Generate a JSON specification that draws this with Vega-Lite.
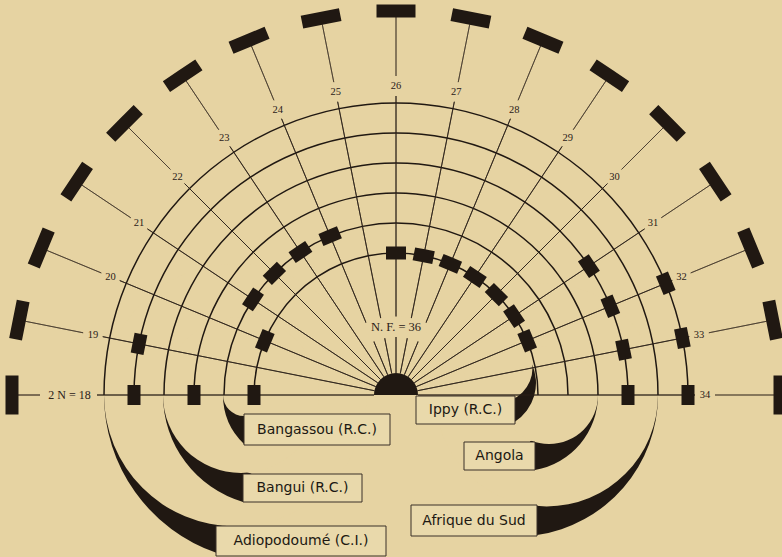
{
  "$schema": "https://vega.github.io/schema/vega-lite/v6.json",
  "width": 782,
  "height": 557,
  "padding": 0,
  "autosize": {"type": "none"},
  "background": "#e6d3a2",
  "config": {"view": {"stroke": null}},
  "datasets": {
    "rays": [{"n": 18}, {"n": 19}, {"n": 20}, {"n": 21}, {"n": 22}, {"n": 23}, {"n": 24}, {"n": 25}, {"n": 26}, {"n": 27}, {"n": 28}, {"n": 29}, {"n": 30}, {"n": 31}, {"n": 32}, {"n": 33}, {"n": 34}],
    "rings": [
      {"population": "Ippy  (R.C.)", "ring": 1},
      {"population": "Bangassou (R.C.)", "ring": 2},
      {"population": "Angola", "ring": 3},
      {"population": "Bangui  (R.C.)", "ring": 4},
      {"population": "Afrique du Sud", "ring": 5},
      {"population": "Adiopodoumé (C.I.)", "ring": 6}
    ],
    "karyotypes": [
      {"population": "Ippy  (R.C.)", "n": 18}, {"population": "Ippy  (R.C.)", "n": 20}, {"population": "Ippy  (R.C.)", "n": 26}, {"population": "Ippy  (R.C.)", "n": 27}, {"population": "Ippy  (R.C.)", "n": 28}, {"population": "Ippy  (R.C.)", "n": 29}, {"population": "Ippy  (R.C.)", "n": 30}, {"population": "Ippy  (R.C.)", "n": 31}, {"population": "Ippy  (R.C.)", "n": 32},
      {"population": "Bangassou (R.C.)", "n": 21}, {"population": "Bangassou (R.C.)", "n": 22}, {"population": "Bangassou (R.C.)", "n": 23}, {"population": "Bangassou (R.C.)", "n": 24},
      {"population": "Angola", "n": 18},
      {"population": "Bangui  (R.C.)", "n": 31}, {"population": "Bangui  (R.C.)", "n": 32}, {"population": "Bangui  (R.C.)", "n": 33}, {"population": "Bangui  (R.C.)", "n": 34},
      {"population": "Afrique du Sud", "n": 18}, {"population": "Afrique du Sud", "n": 19},
      {"population": "Adiopodoumé (C.I.)", "n": 32}, {"population": "Adiopodoumé (C.I.)", "n": 33}, {"population": "Adiopodoumé (C.I.)", "n": 34}
    ]
  },
  "encoding": {
    "x": {"datum": 0, "type": "quantitative", "scale": {"domain": [-396, 386], "nice": false, "zero": false}, "axis": null},
    "y": {"datum": 0, "type": "quantitative", "scale": {"domain": [-162, 395], "nice": false, "zero": false}, "axis": null}
  },
  "layer": [
    {"data": {"name": "rings"}, "transform": [{"filter": "datum.ring == 6"}],
     "mark": {"type": "arc", "fill": "#201812"},
     "encoding": {
       "x": {"datum": -125, "type": "quantitative", "scale": {"domain": [-396, 386], "nice": false, "zero": false}, "axis": null},
       "theta": {"datum": 11.68, "type": "quantitative", "stack": null, "scale": {"type": "linear", "domain": [18, 34], "range": [-1.5707963, 1.5707963], "zero": false, "nice": false}},
       "theta2": {"datum": 18},
       "radius": {"datum": 1.8333, "type": "quantitative", "scale": {"type": "linear", "domain": [0, 10], "range": [112, 412], "zero": false, "nice": false}},
       "radius2": {"datum": 0.8667}
     }},
    {"data": {"name": "rings"}, "transform": [{"filter": "datum.ring == 6"}],
     "mark": {"type": "arc", "fill": "#e6d3a2"},
     "encoding": {
       "x": {"datum": -160.7, "type": "quantitative", "scale": {"domain": [-396, 386], "nice": false, "zero": false}, "axis": null},
       "theta": {"datum": 10, "type": "quantitative", "stack": null, "scale": {"type": "linear", "domain": [18, 34], "range": [-1.5707963, 1.5707963], "zero": false, "nice": false}},
       "theta2": {"datum": 42},
       "radius": {"datum": 0.6433, "type": "quantitative", "scale": {"type": "linear", "domain": [0, 10], "range": [112, 412], "zero": false, "nice": false}},
       "radius2": {"datum": -3.7333}
     }},
    {"data": {"name": "rings"}, "transform": [{"filter": "datum.ring == 4"}],
     "mark": {"type": "arc", "fill": "#201812"},
     "encoding": {
       "x": {"datum": -121.4, "type": "quantitative", "scale": {"domain": [-396, 386], "nice": false, "zero": false}, "axis": null},
       "theta": {"datum": 11.46, "type": "quantitative", "stack": null, "scale": {"type": "linear", "domain": [18, 34], "range": [-1.5707963, 1.5707963], "zero": false, "nice": false}},
       "theta2": {"datum": 18},
       "radius": {"datum": -0.0133, "type": "quantitative", "scale": {"type": "linear", "domain": [0, 10], "range": [112, 412], "zero": false, "nice": false}},
       "radius2": {"datum": -1.0}
     }},
    {"data": {"name": "rings"}, "transform": [{"filter": "datum.ring == 4"}],
     "mark": {"type": "arc", "fill": "#e6d3a2"},
     "encoding": {
       "x": {"datum": -155, "type": "quantitative", "scale": {"domain": [-396, 386], "nice": false, "zero": false}, "axis": null},
       "theta": {"datum": 10, "type": "quantitative", "stack": null, "scale": {"type": "linear", "domain": [18, 34], "range": [-1.5707963, 1.5707963], "zero": false, "nice": false}},
       "theta2": {"datum": 42},
       "radius": {"datum": -1.1333, "type": "quantitative", "scale": {"type": "linear", "domain": [0, 10], "range": [112, 412], "zero": false, "nice": false}},
       "radius2": {"datum": -3.7333}
     }},
    {"data": {"name": "rings"}, "transform": [{"filter": "datum.ring == 2"}],
     "mark": {"type": "arc", "fill": "#201812"},
     "encoding": {
       "x": {"datum": -105.3, "type": "quantitative", "scale": {"domain": [-396, 386], "nice": false, "zero": false}, "axis": null},
       "theta": {"datum": 13.88, "type": "quantitative", "stack": null, "scale": {"type": "linear", "domain": [18, 34], "range": [-1.5707963, 1.5707963], "zero": false, "nice": false}},
       "theta2": {"datum": 18},
       "radius": {"datum": -1.4767, "type": "quantitative", "scale": {"type": "linear", "domain": [0, 10], "range": [112, 412], "zero": false, "nice": false}},
       "radius2": {"datum": -2.0667}
     }},
    {"data": {"name": "rings"}, "transform": [{"filter": "datum.ring == 2"}],
     "mark": {"type": "arc", "fill": "#e6d3a2"},
     "encoding": {
       "x": {"datum": -152, "type": "quantitative", "scale": {"domain": [-396, 386], "nice": false, "zero": false}, "axis": null},
       "theta": {"datum": 10, "type": "quantitative", "stack": null, "scale": {"type": "linear", "domain": [18, 34], "range": [-1.5707963, 1.5707963], "zero": false, "nice": false}},
       "theta2": {"datum": 42},
       "radius": {"datum": -3.0333, "type": "quantitative", "scale": {"type": "linear", "domain": [0, 10], "range": [112, 412], "zero": false, "nice": false}},
       "radius2": {"datum": -3.7333}
     }},
    {"data": {"name": "rings"}, "transform": [{"filter": "datum.ring == 5"}],
     "mark": {"type": "arc", "fill": "#201812"},
     "encoding": {
       "x": {"datum": 120.5, "type": "quantitative", "scale": {"domain": [-396, 386], "nice": false, "zero": false}, "axis": null},
       "theta": {"datum": 34, "type": "quantitative", "stack": null, "scale": {"type": "linear", "domain": [18, 34], "range": [-1.5707963, 1.5707963], "zero": false, "nice": false}},
       "theta2": {"datum": 41.26},
       "radius": {"datum": 0.9833, "type": "quantitative", "scale": {"type": "linear", "domain": [0, 10], "range": [112, 412], "zero": false, "nice": false}},
       "radius2": {"datum": -0.0667}
     }},
    {"data": {"name": "rings"}, "transform": [{"filter": "datum.ring == 5"}],
     "mark": {"type": "arc", "fill": "#e6d3a2"},
     "encoding": {
       "x": {"datum": 150.6, "type": "quantitative", "scale": {"domain": [-396, 386], "nice": false, "zero": false}, "axis": null},
       "theta": {"datum": 10, "type": "quantitative", "stack": null, "scale": {"type": "linear", "domain": [18, 34], "range": [-1.5707963, 1.5707963], "zero": false, "nice": false}},
       "theta2": {"datum": 42},
       "radius": {"datum": -0.02, "type": "quantitative", "scale": {"type": "linear", "domain": [0, 10], "range": [112, 412], "zero": false, "nice": false}},
       "radius2": {"datum": -3.7333}
     }},
    {"data": {"name": "rings"}, "transform": [{"filter": "datum.ring == 3"}],
     "mark": {"type": "arc", "fill": "#201812"},
     "encoding": {
       "x": {"datum": 125.9, "type": "quantitative", "scale": {"domain": [-396, 386], "nice": false, "zero": false}, "axis": null},
       "theta": {"datum": 34, "type": "quantitative", "stack": null, "scale": {"type": "linear", "domain": [18, 34], "range": [-1.5707963, 1.5707963], "zero": false, "nice": false}},
       "theta2": {"datum": 41.12},
       "radius": {"datum": -1.1967, "type": "quantitative", "scale": {"type": "linear", "domain": [0, 10], "range": [112, 412], "zero": false, "nice": false}},
       "radius2": {"datum": -2.1667}
     }},
    {"data": {"name": "rings"}, "transform": [{"filter": "datum.ring == 3"}],
     "mark": {"type": "arc", "fill": "#e6d3a2"},
     "encoding": {
       "x": {"datum": 153, "type": "quantitative", "scale": {"domain": [-396, 386], "nice": false, "zero": false}, "axis": null},
       "theta": {"datum": 10, "type": "quantitative", "stack": null, "scale": {"type": "linear", "domain": [18, 34], "range": [-1.5707963, 1.5707963], "zero": false, "nice": false}},
       "theta2": {"datum": 42},
       "radius": {"datum": -2.1, "type": "quantitative", "scale": {"type": "linear", "domain": [0, 10], "range": [112, 412], "zero": false, "nice": false}},
       "radius2": {"datum": -3.7333}
     }},
    {"data": {"name": "rings"}, "transform": [{"filter": "datum.ring == 1"}],
     "mark": {"type": "arc", "fill": "#201812"},
     "encoding": {
       "x": {"datum": 94, "type": "quantitative", "scale": {"domain": [-396, 386], "nice": false, "zero": false}, "axis": null},
       "y": {"datum": 12, "type": "quantitative", "scale": {"domain": [-162, 395], "nice": false, "zero": false}, "axis": null},
       "theta": {"datum": 31.78, "type": "quantitative", "stack": null, "scale": {"type": "linear", "domain": [18, 34], "range": [-1.5707963, 1.5707963], "zero": false, "nice": false}},
       "theta2": {"datum": 39.09},
       "radius": {"datum": -2.2, "type": "quantitative", "scale": {"type": "linear", "domain": [0, 10], "range": [112, 412], "zero": false, "nice": false}},
       "radius2": {"datum": -2.8333}
     }},
    {"data": {"name": "rings"}, "transform": [{"filter": "datum.ring == 1"}],
     "mark": {"type": "arc", "fill": "#e6d3a2"},
     "encoding": {
       "x": {"datum": 102, "type": "quantitative", "scale": {"domain": [-396, 386], "nice": false, "zero": false}, "axis": null},
       "y": {"datum": 27, "type": "quantitative", "scale": {"domain": [-162, 395], "nice": false, "zero": false}, "axis": null},
       "theta": {"datum": 10, "type": "quantitative", "stack": null, "scale": {"type": "linear", "domain": [18, 34], "range": [-1.5707963, 1.5707963], "zero": false, "nice": false}},
       "theta2": {"datum": 42},
       "radius": {"datum": -2.5833, "type": "quantitative", "scale": {"type": "linear", "domain": [0, 10], "range": [112, 412], "zero": false, "nice": false}},
       "radius2": {"datum": -3.7333}
     }},
    {"data": {"name": "rings"},
     "mark": {"type": "arc", "fill": "#201812", "radiusOffset": 0.75, "radius2Offset": -0.75},
     "encoding": {
       "theta": {"datum": 18, "type": "quantitative", "stack": null, "scale": {"type": "linear", "domain": [18, 34], "range": [-1.5707963, 1.5707963], "zero": false, "nice": false}},
       "theta2": {"datum": 34},
       "radius": {"field": "ring", "type": "quantitative", "scale": {"type": "linear", "domain": [0, 10], "range": [112, 412], "zero": false, "nice": false}},
       "radius2": {"field": "ring"}
     }},
    {"data": {"name": "rays"},
     "mark": {"type": "arc", "fill": null, "stroke": "#2a2018", "strokeWidth": 0.8, "strokeJoin": "bevel"},
     "encoding": {
       "theta": {"field": "n", "type": "quantitative", "stack": null, "scale": {"type": "linear", "domain": [18, 34], "range": [-1.5707963, 1.5707963], "zero": false, "nice": false}},
       "theta2": {"field": "n"},
       "radius": {"datum": 6.2333, "type": "quantitative", "scale": {"type": "linear", "domain": [0, 10], "range": [112, 412], "zero": false, "nice": false}},
       "radius2": {"datum": -3.0}
     }},
    {"data": {"name": "rays"}, "transform": [{"filter": "datum.n > 18"}],
     "mark": {"type": "arc", "fill": null, "stroke": "#3f3428", "strokeWidth": 0.7, "strokeJoin": "bevel"},
     "encoding": {
       "theta": {"field": "n", "type": "quantitative", "stack": null, "scale": {"type": "linear", "domain": [18, 34], "range": [-1.5707963, 1.5707963], "zero": false, "nice": false}},
       "theta2": {"field": "n"},
       "radius": {"datum": 8.8667, "type": "quantitative", "scale": {"type": "linear", "domain": [0, 10], "range": [112, 412], "zero": false, "nice": false}},
       "radius2": {"datum": 6.9}
     }},
    {"data": {"name": "rays"}, "transform": [{"filter": "datum.n == 18"}],
     "mark": {"type": "arc", "fill": null, "stroke": "#3f3428", "strokeWidth": 0.8, "strokeJoin": "bevel"},
     "encoding": {
       "theta": {"field": "n", "type": "quantitative", "stack": null, "scale": {"type": "linear", "domain": [18, 34], "range": [-1.5707963, 1.5707963], "zero": false, "nice": false}},
       "theta2": {"field": "n"},
       "radius": {"datum": 8.8667, "type": "quantitative", "scale": {"type": "linear", "domain": [0, 10], "range": [112, 412], "zero": false, "nice": false}},
       "radius2": {"datum": 8.1333}
     }},
    {"data": {"name": "rays"}, "transform": [{"filter": "datum.n == 26"}],
     "mark": {"type": "arc", "fill": "#e6d3a2"},
     "encoding": {
       "theta": {"datum": 23.7, "type": "quantitative", "stack": null, "scale": {"type": "linear", "domain": [18, 34], "range": [-1.5707963, 1.5707963], "zero": false, "nice": false}},
       "theta2": {"datum": 28.3},
       "radius": {"datum": -1.12, "type": "quantitative", "scale": {"type": "linear", "domain": [0, 10], "range": [112, 412], "zero": false, "nice": false}},
       "radius2": {"datum": -1.8}
     }},
    {"data": {"name": "rings"}, "transform": [{"filter": "datum.ring == 1"}],
     "mark": {"type": "arc", "fill": "#201812"},
     "encoding": {
       "theta": {"datum": 18, "type": "quantitative", "stack": null, "scale": {"type": "linear", "domain": [18, 34], "range": [-1.5707963, 1.5707963], "zero": false, "nice": false}},
       "theta2": {"datum": 34},
       "radius": {"datum": -3.0, "type": "quantitative", "scale": {"type": "linear", "domain": [0, 10], "range": [112, 412], "zero": false, "nice": false}},
       "radius2": {"datum": -3.7333}
     }},
    {"data": {"name": "karyotypes"},
     "transform": [{"lookup": "population", "from": {"data": {"name": "rings"}, "key": "population", "fields": ["ring"]}}],
     "mark": {"type": "arc", "fill": null, "stroke": "#201812", "strokeWidth": 20, "strokeJoin": "bevel", "radiusOffset": 6.5, "radius2Offset": -6.5},
     "encoding": {
       "theta": {"field": "n", "type": "quantitative", "stack": null, "scale": {"type": "linear", "domain": [18, 34], "range": [-1.5707963, 1.5707963], "zero": false, "nice": false}},
       "theta2": {"field": "n"},
       "radius": {"field": "ring", "type": "quantitative", "scale": {"type": "linear", "domain": [0, 10], "range": [112, 412], "zero": false, "nice": false}},
       "radius2": {"field": "ring"}
     }},
    {"data": {"name": "rays"},
     "mark": {"type": "arc", "fill": null, "stroke": "#201812", "strokeWidth": 39, "strokeJoin": "bevel", "radiusOffset": 6.5, "radius2Offset": -6.5},
     "encoding": {
       "theta": {"field": "n", "type": "quantitative", "stack": null, "scale": {"type": "linear", "domain": [18, 34], "range": [-1.5707963, 1.5707963], "zero": false, "nice": false}},
       "theta2": {"field": "n"},
       "radius": {"datum": 9.0667, "type": "quantitative", "scale": {"type": "linear", "domain": [0, 10], "range": [112, 412], "zero": false, "nice": false}},
       "radius2": {"datum": 9.0667}
     }},
    {"data": {"name": "rays"}, "transform": [{"filter": "datum.n > 18"}],
     "mark": {"type": "text", "font": "Liberation Serif", "fontSize": 10.5, "fill": "#2a2018", "align": "center", "baseline": "middle"},
     "encoding": {
       "text": {"field": "n", "type": "nominal"},
       "theta": {"field": "n", "type": "quantitative", "stack": null, "scale": {"type": "linear", "domain": [18, 34], "range": [-1.5707963, 1.5707963], "zero": false, "nice": false}},
       "radius": {"datum": 6.5667, "type": "quantitative", "scale": {"type": "linear", "domain": [0, 10], "range": [112, 412], "zero": false, "nice": false}}
     }},
    {"data": {"name": "rays"}, "transform": [{"filter": "datum.n == 18"}],
     "mark": {"type": "text", "text": "2 N = 18", "font": "Liberation Serif", "fontSize": 12, "fill": "#2a2018", "align": "center", "baseline": "middle"},
     "encoding": {
       "theta": {"field": "n", "type": "quantitative", "stack": null, "scale": {"type": "linear", "domain": [18, 34], "range": [-1.5707963, 1.5707963], "zero": false, "nice": false}},
       "radius": {"datum": 7.15, "type": "quantitative", "scale": {"type": "linear", "domain": [0, 10], "range": [112, 412], "zero": false, "nice": false}}
     }},
    {"data": {"name": "rays"}, "transform": [{"filter": "datum.n == 26"}],
     "mark": {"type": "text", "text": "N. F. = 36", "font": "Liberation Serif", "fontSize": 12.5, "fill": "#2a2018", "align": "center", "baseline": "middle"},
     "encoding": {
       "theta": {"field": "n", "type": "quantitative", "stack": null, "scale": {"type": "linear", "domain": [18, 34], "range": [-1.5707963, 1.5707963], "zero": false, "nice": false}},
       "radius": {"datum": -1.4667, "type": "quantitative", "scale": {"type": "linear", "domain": [0, 10], "range": [112, 412], "zero": false, "nice": false}}
     }},
    {"data": {"name": "rings"}, "transform": [{"filter": "datum.ring == 2"}],
     "layer": [
       {"mark": {"type": "rect", "fill": "#e9d9ab", "stroke": "#3b3028", "strokeWidth": 1},
        "encoding": {"x": {"datum": -152, "type": "quantitative", "scale": {"domain": [-396, 386], "nice": false, "zero": false}, "axis": null}, "x2": {"datum": -6},
                     "y": {"datum": -19, "type": "quantitative", "scale": {"domain": [-162, 395], "nice": false, "zero": false}, "axis": null}, "y2": {"datum": -50}}},
       {"mark": {"type": "text", "font": "DejaVu Sans", "fontSize": 14, "fill": "#201812", "align": "center", "baseline": "middle"},
        "encoding": {"text": {"field": "population"}, "x": {"datum": -79, "type": "quantitative", "scale": {"domain": [-396, 386], "nice": false, "zero": false}, "axis": null},
                     "y": {"datum": -34.5, "type": "quantitative", "scale": {"domain": [-162, 395], "nice": false, "zero": false}, "axis": null}}}
     ]},
    {"data": {"name": "rings"}, "transform": [{"filter": "datum.ring == 4"}],
     "layer": [
       {"mark": {"type": "rect", "fill": "#e9d9ab", "stroke": "#3b3028", "strokeWidth": 1},
        "encoding": {"x": {"datum": -153, "type": "quantitative", "scale": {"domain": [-396, 386], "nice": false, "zero": false}, "axis": null}, "x2": {"datum": -34},
                     "y": {"datum": -79, "type": "quantitative", "scale": {"domain": [-162, 395], "nice": false, "zero": false}, "axis": null}, "y2": {"datum": -107}}},
       {"mark": {"type": "text", "font": "DejaVu Sans", "fontSize": 14, "fill": "#201812", "align": "center", "baseline": "middle"},
        "encoding": {"text": {"field": "population"}, "x": {"datum": -93.5, "type": "quantitative", "scale": {"domain": [-396, 386], "nice": false, "zero": false}, "axis": null},
                     "y": {"datum": -93, "type": "quantitative", "scale": {"domain": [-162, 395], "nice": false, "zero": false}, "axis": null}}}
     ]},
    {"data": {"name": "rings"}, "transform": [{"filter": "datum.ring == 6"}],
     "layer": [
       {"mark": {"type": "rect", "fill": "#e9d9ab", "stroke": "#3b3028", "strokeWidth": 1},
        "encoding": {"x": {"datum": -180, "type": "quantitative", "scale": {"domain": [-396, 386], "nice": false, "zero": false}, "axis": null}, "x2": {"datum": -10},
                     "y": {"datum": -131, "type": "quantitative", "scale": {"domain": [-162, 395], "nice": false, "zero": false}, "axis": null}, "y2": {"datum": -161}}},
       {"mark": {"type": "text", "font": "DejaVu Sans", "fontSize": 14, "fill": "#201812", "align": "center", "baseline": "middle"},
        "encoding": {"text": {"field": "population"}, "x": {"datum": -95, "type": "quantitative", "scale": {"domain": [-396, 386], "nice": false, "zero": false}, "axis": null},
                     "y": {"datum": -146, "type": "quantitative", "scale": {"domain": [-162, 395], "nice": false, "zero": false}, "axis": null}}}
     ]},
    {"data": {"name": "rings"}, "transform": [{"filter": "datum.ring == 1"}],
     "layer": [
       {"mark": {"type": "rect", "fill": "#e9d9ab", "stroke": "#3b3028", "strokeWidth": 1},
        "encoding": {"x": {"datum": 20, "type": "quantitative", "scale": {"domain": [-396, 386], "nice": false, "zero": false}, "axis": null}, "x2": {"datum": 119},
                     "y": {"datum": -1, "type": "quantitative", "scale": {"domain": [-162, 395], "nice": false, "zero": false}, "axis": null}, "y2": {"datum": -29}}},
       {"mark": {"type": "text", "font": "DejaVu Sans", "fontSize": 14, "fill": "#201812", "align": "center", "baseline": "middle"},
        "encoding": {"text": {"field": "population"}, "x": {"datum": 69.5, "type": "quantitative", "scale": {"domain": [-396, 386], "nice": false, "zero": false}, "axis": null},
                     "y": {"datum": -15, "type": "quantitative", "scale": {"domain": [-162, 395], "nice": false, "zero": false}, "axis": null}}}
     ]},
    {"data": {"name": "rings"}, "transform": [{"filter": "datum.ring == 3"}],
     "layer": [
       {"mark": {"type": "rect", "fill": "#e9d9ab", "stroke": "#3b3028", "strokeWidth": 1},
        "encoding": {"x": {"datum": 68, "type": "quantitative", "scale": {"domain": [-396, 386], "nice": false, "zero": false}, "axis": null}, "x2": {"datum": 139},
                     "y": {"datum": -47, "type": "quantitative", "scale": {"domain": [-162, 395], "nice": false, "zero": false}, "axis": null}, "y2": {"datum": -75}}},
       {"mark": {"type": "text", "font": "DejaVu Sans", "fontSize": 14, "fill": "#201812", "align": "center", "baseline": "middle"},
        "encoding": {"text": {"field": "population"}, "x": {"datum": 103.5, "type": "quantitative", "scale": {"domain": [-396, 386], "nice": false, "zero": false}, "axis": null},
                     "y": {"datum": -61, "type": "quantitative", "scale": {"domain": [-162, 395], "nice": false, "zero": false}, "axis": null}}}
     ]},
    {"data": {"name": "rings"}, "transform": [{"filter": "datum.ring == 5"}],
     "layer": [
       {"mark": {"type": "rect", "fill": "#e9d9ab", "stroke": "#3b3028", "strokeWidth": 1},
        "encoding": {"x": {"datum": 15, "type": "quantitative", "scale": {"domain": [-396, 386], "nice": false, "zero": false}, "axis": null}, "x2": {"datum": 141},
                     "y": {"datum": -110, "type": "quantitative", "scale": {"domain": [-162, 395], "nice": false, "zero": false}, "axis": null}, "y2": {"datum": -141}}},
       {"mark": {"type": "text", "font": "DejaVu Sans", "fontSize": 14, "fill": "#201812", "align": "center", "baseline": "middle"},
        "encoding": {"text": {"field": "population"}, "x": {"datum": 78, "type": "quantitative", "scale": {"domain": [-396, 386], "nice": false, "zero": false}, "axis": null},
                     "y": {"datum": -125.5, "type": "quantitative", "scale": {"domain": [-162, 395], "nice": false, "zero": false}, "axis": null}}}
     ]}
  ]
}
